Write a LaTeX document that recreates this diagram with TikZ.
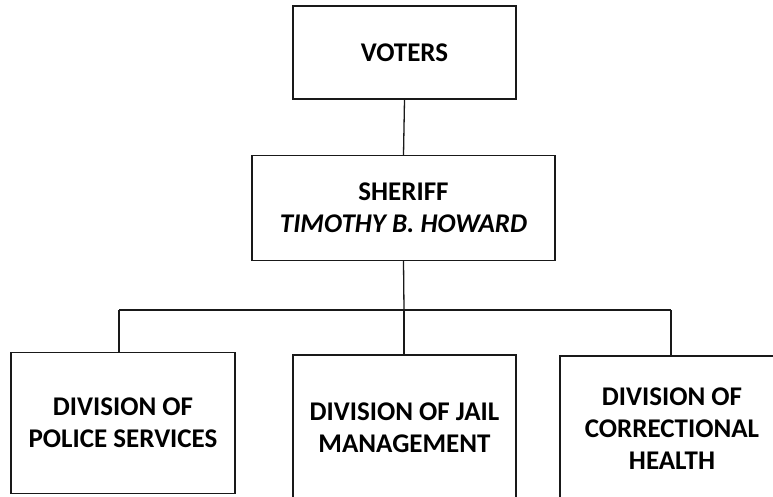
\documentclass[tikz,border=0pt]{standalone}
\usepackage{fontspec}
\setmainfont{Carlito}
\begin{document}
\begin{tikzpicture}[x=1pt,y=-1pt,
  orgbox/.style={draw=black!90, line width=1.4pt, fill=white, inner sep=0pt,
    align=center, font=\fontsize{27}{32}\selectfont\bfseries},
  link/.style={draw=black!90, line width=1.3pt}]
\useasboundingbox (0,0) rectangle (773,496);
\begin{scope}
\clip (0,0) rectangle (773,496);
% top level
\node[orgbox, minimum width=223pt, minimum height=93pt] (voters) at (404.5,52.5) {VOTERS};
\node[orgbox, minimum width=303pt, minimum height=105pt] (sheriff) at (403.5,208)
  {SHERIFF\\\itshape TIMOTHY B. HOWARD};
% divisions
\node[orgbox, minimum width=224pt, minimum height=141pt] (police) at (123,423)
  {DIVISION OF\\POLICE SERVICES};
\node[orgbox, minimum width=223pt, minimum height=146pt] (jail) at (404.5,428)
  {DIVISION OF JAIL\\MANAGEMENT};
\node[orgbox, minimum width=224pt, minimum height=146pt] (health) at (672,429)
  {DIVISION OF\\CORRECTIONAL\\HEALTH};
% bus line
\coordinate (busL) at (119,310);
\coordinate (busM) at (404,310);
\coordinate (busR) at (671,310);
\draw[link] (voters.south) -- (sheriff.north);
\draw[link] (sheriff.south) -- (busM);
\draw[link] (busL) -- (busR);
\draw[link] (busL) -- (busL |- police.north);
\draw[link] (busM) -- (busM |- jail.north);
\draw[link] (busR) -- (busR |- health.north);
\end{scope}
\end{tikzpicture}
\end{document}
